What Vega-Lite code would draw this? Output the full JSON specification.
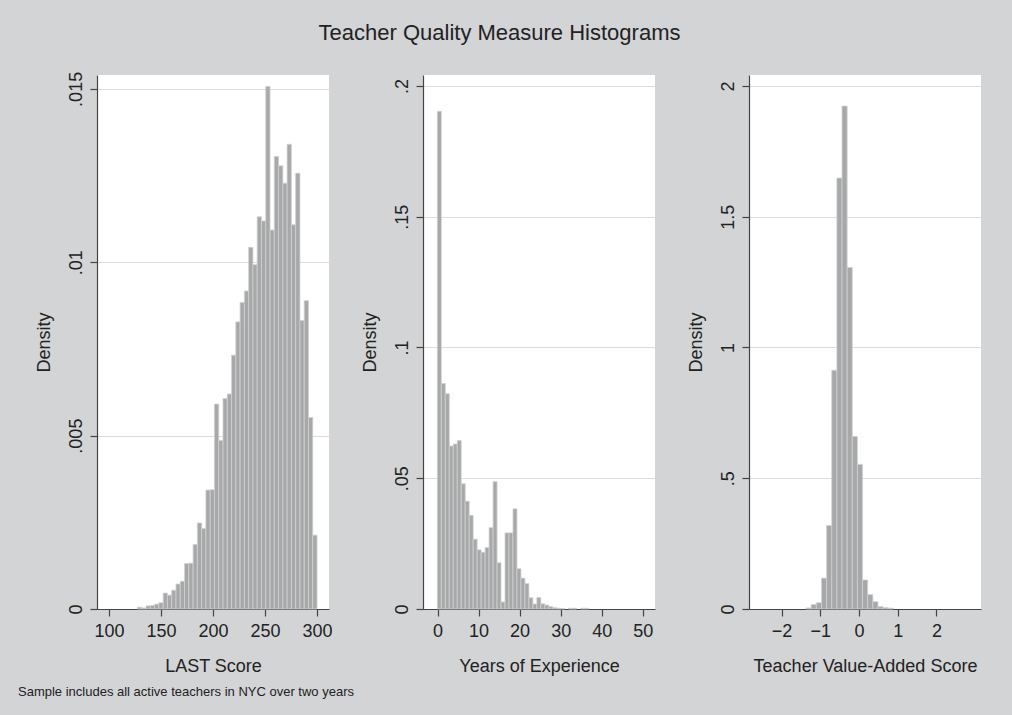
{
  "$schema": "https://vega.github.io/schema/vega-lite/v6.json",
  "autosize": {"type": "none"},
  "padding": {"left": 97, "top": 75, "right": 915, "bottom": 640},
  "background": "#d3d4d6",
  "title": {"text": "Teacher Quality Measure Histograms", "fontSize": 22, "font": "Liberation Sans", "fontWeight": "normal", "color": "#222222", "offset": 26, "anchor": "middle"},
  "datasets": {
    "last": [
      {"start": 127.464, "end": 131.572, "density": 0.00005},
      {"start": 131.572, "end": 135.68, "density": 0.00003},
      {"start": 135.68, "end": 139.788, "density": 0.00009},
      {"start": 139.788, "end": 143.896, "density": 0.0001},
      {"start": 143.896, "end": 148.004, "density": 0.00014},
      {"start": 148.004, "end": 152.112, "density": 0.00018},
      {"start": 152.112, "end": 156.22, "density": 0.00046},
      {"start": 156.22, "end": 160.328, "density": 0.0004},
      {"start": 160.328, "end": 164.436, "density": 0.00054},
      {"start": 164.436, "end": 168.544, "density": 0.00072},
      {"start": 168.544, "end": 172.652, "density": 0.0008},
      {"start": 172.652, "end": 176.76, "density": 0.00131},
      {"start": 176.76, "end": 180.868, "density": 0.00132},
      {"start": 180.868, "end": 184.976, "density": 0.00186},
      {"start": 184.976, "end": 189.084, "density": 0.00248},
      {"start": 189.084, "end": 193.192, "density": 0.00232},
      {"start": 193.192, "end": 197.3, "density": 0.00343},
      {"start": 197.3, "end": 201.408, "density": 0.00344},
      {"start": 201.408, "end": 205.516, "density": 0.00591},
      {"start": 205.516, "end": 209.624, "density": 0.00486},
      {"start": 209.624, "end": 213.732, "density": 0.00607},
      {"start": 213.732, "end": 217.84, "density": 0.0062},
      {"start": 217.84, "end": 221.948, "density": 0.00732},
      {"start": 221.948, "end": 226.056, "density": 0.00828},
      {"start": 226.056, "end": 230.164, "density": 0.00884},
      {"start": 230.164, "end": 234.272, "density": 0.00917},
      {"start": 234.272, "end": 238.38, "density": 0.01043},
      {"start": 238.38, "end": 242.488, "density": 0.00993},
      {"start": 242.488, "end": 246.596, "density": 0.01131},
      {"start": 246.596, "end": 250.704, "density": 0.01119},
      {"start": 250.704, "end": 254.812, "density": 0.01507},
      {"start": 254.812, "end": 258.92, "density": 0.01093},
      {"start": 258.92, "end": 263.028, "density": 0.01305},
      {"start": 263.028, "end": 267.136, "density": 0.01278},
      {"start": 267.136, "end": 271.244, "density": 0.01228},
      {"start": 271.244, "end": 275.352, "density": 0.0134},
      {"start": 275.352, "end": 279.46, "density": 0.01108},
      {"start": 279.46, "end": 283.568, "density": 0.01257},
      {"start": 283.568, "end": 287.676, "density": 0.00832},
      {"start": 287.676, "end": 291.784, "density": 0.00889},
      {"start": 291.784, "end": 295.892, "density": 0.00552},
      {"start": 295.892, "end": 300.0, "density": 0.00213}
    ],
    "exper": [
      {"start": -0.05, "end": 0.92, "density": 0.1903},
      {"start": 0.92, "end": 1.89, "density": 0.0862},
      {"start": 1.89, "end": 2.86, "density": 0.0823},
      {"start": 2.86, "end": 3.83, "density": 0.0623},
      {"start": 3.83, "end": 4.8, "density": 0.0631},
      {"start": 4.8, "end": 5.77, "density": 0.0644},
      {"start": 5.77, "end": 6.74, "density": 0.0479},
      {"start": 6.74, "end": 7.71, "density": 0.0412},
      {"start": 7.71, "end": 8.68, "density": 0.0358},
      {"start": 8.68, "end": 9.65, "density": 0.0267},
      {"start": 9.65, "end": 10.62, "density": 0.0226},
      {"start": 10.62, "end": 11.59, "density": 0.0217},
      {"start": 11.59, "end": 12.56, "density": 0.0235},
      {"start": 12.56, "end": 13.53, "density": 0.0311},
      {"start": 13.53, "end": 14.5, "density": 0.0487},
      {"start": 14.5, "end": 15.47, "density": 0.0177},
      {"start": 15.47, "end": 16.44, "density": 0.0027},
      {"start": 16.44, "end": 17.41, "density": 0.0291},
      {"start": 17.41, "end": 18.38, "density": 0.0291},
      {"start": 18.38, "end": 19.35, "density": 0.0383},
      {"start": 19.35, "end": 20.32, "density": 0.0154},
      {"start": 20.32, "end": 21.29, "density": 0.0118},
      {"start": 21.29, "end": 22.26, "density": 0.0097},
      {"start": 22.26, "end": 23.23, "density": 0.0043},
      {"start": 23.23, "end": 24.2, "density": 0.0019},
      {"start": 24.2, "end": 25.17, "density": 0.0044},
      {"start": 25.17, "end": 26.14, "density": 0.002},
      {"start": 26.14, "end": 27.11, "density": 0.0015},
      {"start": 27.11, "end": 28.08, "density": 0.0009},
      {"start": 28.08, "end": 29.05, "density": 0.0005},
      {"start": 29.05, "end": 30.02, "density": 0.0003},
      {"start": 30.02, "end": 30.99, "density": 0.0002},
      {"start": 31.96, "end": 32.93, "density": 0.0003},
      {"start": 32.93, "end": 33.9, "density": 0.0003},
      {"start": 34.87, "end": 35.84, "density": 0.0003},
      {"start": 35.84, "end": 36.81, "density": 0.0003}
    ],
    "va": [
      {"start": -1.366, "end": -1.233, "density": 0.004},
      {"start": -1.233, "end": -1.101, "density": 0.017},
      {"start": -1.101, "end": -0.968, "density": 0.024},
      {"start": -0.968, "end": -0.836, "density": 0.118},
      {"start": -0.836, "end": -0.703, "density": 0.319},
      {"start": -0.703, "end": -0.571, "density": 0.913},
      {"start": -0.571, "end": -0.438, "density": 1.648},
      {"start": -0.438, "end": -0.306, "density": 1.923},
      {"start": -0.306, "end": -0.173, "density": 1.306},
      {"start": -0.173, "end": -0.041, "density": 0.66},
      {"start": -0.041, "end": 0.092, "density": 0.553},
      {"start": 0.092, "end": 0.224, "density": 0.111},
      {"start": 0.224, "end": 0.357, "density": 0.055},
      {"start": 0.357, "end": 0.489, "density": 0.028},
      {"start": 0.489, "end": 0.622, "density": 0.009},
      {"start": 0.622, "end": 0.754, "density": 0.005},
      {"start": 0.754, "end": 0.887, "density": 0.003}
    ]
  },
  "spacing": 94,
  "bounds": "flush",
  "hconcat": [
    {
      "width": 232, "height": 534,
      "data": {"name": "last"},
      "title": {"text": "Sample includes all active teachers in NYC over two years", "orient": "bottom", "anchor": "start", "frame": "group", "dx": -79, "fontSize": 13, "fontWeight": "normal", "offset": 11, "color": "#222222", "font": "Liberation Sans"},
      "mark": {"type": "rect", "fill": "#a7a8aa", "stroke": "#d0d0d0", "strokeWidth": 0.8},
      "encoding": {
        "x": {"field": "start", "type": "quantitative", "scale": {"domain": [88.5, 311.5], "nice": false, "zero": false},
          "axis": {"values": [100, 150, 200, 250, 300], "title": "LAST Score", "grid": false}},
        "x2": {"field": "end"},
        "y": {"field": "density", "type": "quantitative", "scale": {"domain": [0, 0.0154], "nice": false},
          "axis": {"values": [0, 0.005, 0.01, 0.015], "title": "Density", "labelExpr": "datum.value == 0 ? '0' : replace(toString(datum.value), '0.', '.')"}},
        "y2": {"datum": 0}
      }
    },
    {
      "width": 232, "height": 534,
      "data": {"name": "exper"},
      "mark": {"type": "rect", "fill": "#a7a8aa", "stroke": "#d0d0d0", "strokeWidth": 0.8},
      "encoding": {
        "x": {"field": "start", "type": "quantitative", "scale": {"domain": [-3.55, 53.0], "nice": false, "zero": false},
          "axis": {"values": [0, 10, 20, 30, 40, 50], "title": "Years of Experience", "grid": false}},
        "x2": {"field": "end"},
        "y": {"field": "density", "type": "quantitative", "scale": {"domain": [0, 0.2042], "nice": false},
          "axis": {"values": [0, 0.05, 0.1, 0.15, 0.2], "title": "Density", "labelExpr": "datum.value == 0 ? '0' : replace(toString(datum.value), '0.', '.')"}},
        "y2": {"datum": 0}
      }
    },
    {
      "width": 232, "height": 534,
      "data": {"name": "va"},
      "mark": {"type": "rect", "fill": "#a7a8aa", "stroke": "#d0d0d0", "strokeWidth": 0.8},
      "encoding": {
        "x": {"field": "start", "type": "quantitative", "scale": {"domain": [-2.84, 3.15], "nice": false, "zero": false},
          "axis": {"values": [-2, -1, 0, 1, 2], "title": "Teacher Value-Added Score", "grid": false}},
        "x2": {"field": "end"},
        "y": {"field": "density", "type": "quantitative", "scale": {"domain": [0, 2.042], "nice": false},
          "axis": {"values": [0, 0.5, 1, 1.5, 2], "title": "Density", "labelExpr": "datum.value == 0 ? '0' : replace(toString(datum.value), '0.', '.')"}},
        "y2": {"datum": 0}
      }
    }
  ],
  "config": {
    "font": "Liberation Sans",
    "view": {"stroke": null, "fill": "white"},
    "axis": {
      "domainColor": "#444444", "domainWidth": 1.2, "tickColor": "#444444", "tickWidth": 1.2, "tickSize": 7,
      "labelColor": "#222222", "titleColor": "#222222", "titleFontWeight": "normal",
      "labelFont": "Liberation Sans", "titleFont": "Liberation Sans", "gridColor": "#dcdcdc", "gridWidth": 1
    },
    "axisX": {"labelFontSize": 18, "labelPadding": 6, "titleFontSize": 18, "titlePadding": 17, "labelFlush": false},
    "axisY": {"labelFontSize": 18, "labelAngle": -90, "labelPadding": 5, "titleFontSize": 18, "titlePadding": 14, "grid": true, "labelFlush": false}
  }
}
